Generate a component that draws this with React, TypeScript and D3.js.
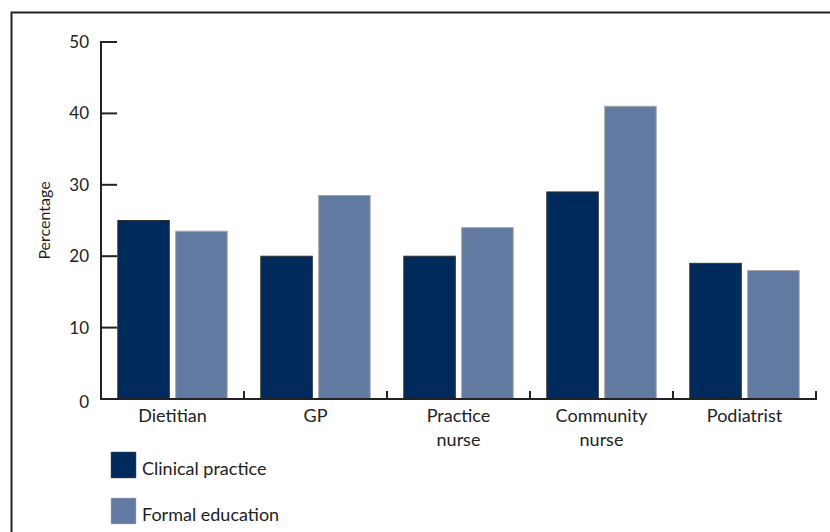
import React from "react";
import * as d3 from "d3";

const categories: string[][] = [["Dietitian"], ["GP"], ["Practice", "nurse"], ["Community", "nurse"], ["Podiatrist"]];
const clinicalPractice: number[] = [25, 20, 20, 29, 19];
const formalEducation: number[] = [23.5, 28.5, 24, 41, 18];
const yTicks: number[] = [0, 10, 20, 30, 40, 50];
const seriesNames: string[] = ["Clinical practice", "Formal education"];

const W = 830;
const H = 532;
const FONT = "Lato, 'Open Sans', sans-serif";
const DARK = "#002a5c";
const LIGHT = "#6279a1";

export default function App() {
  const x0 = 101;
  const x1 = 816;
  const yTop = 42;
  const yBot = 399;
  const y = d3.scaleLinear().domain([0, 50]).range([yBot, yTop]);
  const band = d3.scaleBand<number>().domain(categories.map((_, i) => i)).range([x0, x1]).paddingInner(0).paddingOuter(0);
  const inner = d3.scaleBand<number>().domain([0, 1]).range([0, band.bandwidth()]).paddingInner(0.11).paddingOuter(0.29);
  const series = [clinicalPractice, formalEducation];
  const colors = [DARK, LIGHT];
  const strokes = ["#333333", "#a8a8a8"];
  const center = (i: number) => (band(i) as number) + ((inner(0) as number) + (inner(1) as number) + inner.bandwidth()) / 2;

  return (
    <svg width={W} height={H} style={{ position: "absolute", left: 0, top: 0 }}>
      <rect x={0} y={0} width={W} height={H} fill="#fff" />
      <path d={`M11.5,${H} V12.5 H${W}`} fill="none" stroke="#222" strokeWidth={2} />
      {series.map((vals, s) =>
        vals.map((v, i) => (
          <rect
            key={`${s}-${i}`}
            x={(band(i) as number) + (inner(s) as number)}
            y={y(v)}
            width={inner.bandwidth()}
            height={y(0) - y(v)}
            fill={colors[s]}
            stroke={strokes[s]}
            strokeWidth={1}
          />
        ))
      )}
      <line x1={x0} x2={x0} y1={yTop - 1} y2={yBot + 1} stroke="#222" strokeWidth={2} />
      {yTicks.map((t) => (
        <g key={t}>
          <line x1={x0} x2={x0 + 16} y1={y(t)} y2={y(t)} stroke="#222" strokeWidth={2} />
          <text x={x0 - 12} y={y(t) + (t === 0 ? 9 : 6)} textAnchor="end" fontFamily={FONT} fontSize={17} fill="#222">
            {t}
          </text>
        </g>
      ))}
      <text
        transform={`translate(50,${(yTop + yBot) / 2}) rotate(-90)`}
        textAnchor="middle"
        fontFamily={FONT}
        fontSize={16}
        fill="#222"
      >
        Percentage
      </text>
      <line x1={x0 - 1} x2={x1 + 1} y1={yBot} y2={yBot} stroke="#222" strokeWidth={2} />
      {categories.map((_, i) => {
        const xe = (band(i) as number) + band.bandwidth();
        return <line key={i} x1={xe} x2={xe} y1={yBot} y2={yBot - 8} stroke="#222" strokeWidth={2} />;
      })}
      {categories.map((lines, i) => (
        <text key={i} y={422} textAnchor="middle" fontFamily={FONT} fontSize={18} fill="#222">
          {lines.map((l, k) => (
            <tspan key={k} x={center(i)} dy={k === 0 ? 0 : 24}>
              {l}
            </tspan>
          ))}
        </text>
      ))}
      {seriesNames.map((n, s) => (
        <g key={n} transform={`translate(111,${452 + s * 46})`}>
          <rect x={0} y={0} width={25} height={26} fill={colors[s]} stroke={s === 0 ? "#555" : "#bbb"} strokeWidth={0.5} />
          <text x={31} y={23} fontFamily={FONT} fontSize={18} fill="#222">
            {n}
          </text>
        </g>
      ))}
    </svg>
  );
}
